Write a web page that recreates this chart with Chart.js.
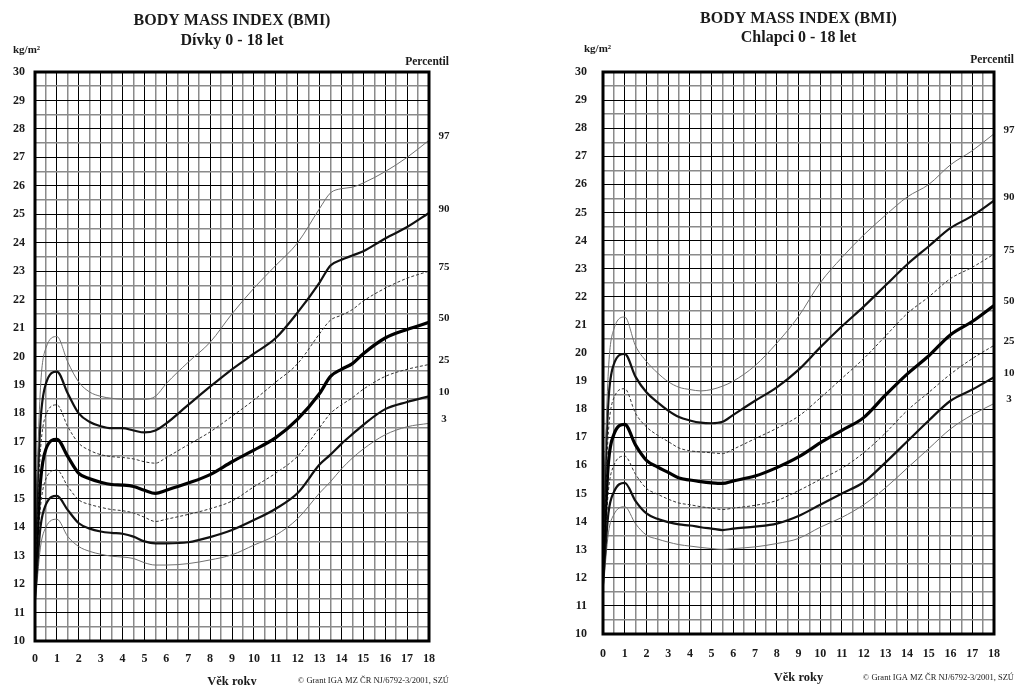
<!DOCTYPE html>
<html>
<head>
<meta charset="utf-8">
<script src="https://cdn.jsdelivr.net/npm/chart.js@4.4.1/dist/chart.umd.min.js"></script>
<style>
html, body { margin: 0; padding: 0; background: #fff; }
#wrap { position: relative; width: 1018px; height: 685px; overflow: hidden; }
canvas { position: absolute; top: 0; }
#girls { left: 0; }
#boys { left: 545px; }
</style>
</head>
<body>
<div id="wrap">
  <canvas id="girls" width="470" height="685"></canvas>
  <canvas id="boys" width="473" height="685"></canvas>
</div>
<script>
// percentile curves, top to bottom
var percentiles = ["97", "90", "75", "50", "25", "10", "3"];

// Dívky (girls) - age in years, BMI kg/m2
var girlAges = [0, 0.25, 0.5, 1, 1.5, 2, 2.5, 3, 3.5, 4, 4.5, 5, 5.5, 6, 7, 8, 9, 10, 11, 12, 13, 13.5, 14, 14.5, 15, 16, 17, 18];
var girlP97 = [13.6, 18.9, 20.3, 20.7, 19.8, 19.1, 18.75, 18.6, 18.53, 18.5, 18.5, 18.5, 18.6, 19.05, 19.8, 20.5, 21.5, 22.4, 23.2, 24.0, 25.2, 25.75, 25.9, 25.95, 26.1, 26.5, 27.0, 27.6];
var girlP90 = [13.1, 17.7, 19.05, 19.47, 18.7, 18.0, 17.7, 17.55, 17.48, 17.48, 17.4, 17.33, 17.4, 17.65, 18.3, 18.94, 19.55, 20.1, 20.65, 21.55, 22.6, 23.2, 23.4, 23.55, 23.7, 24.15, 24.55, 25.05];
var girlP75 = [12.6, 16.7, 17.95, 18.3, 17.53, 16.95, 16.7, 16.55, 16.48, 16.45, 16.4, 16.3, 16.25, 16.45, 16.9, 17.35, 17.9, 18.47, 19.1, 19.75, 20.8, 21.28, 21.45, 21.65, 21.95, 22.4, 22.75, 23.0];
var girlP50 = [12.2, 15.6, 16.75, 17.09, 16.48, 15.89, 15.7, 15.58, 15.5, 15.48, 15.43, 15.3, 15.19, 15.3, 15.55, 15.85, 16.3, 16.71, 17.15, 17.8, 18.7, 19.3, 19.55, 19.75, 20.1, 20.65, 20.95, 21.2];
var girlP25 = [11.8, 14.7, 15.7, 16.01, 15.43, 14.96, 14.8, 14.7, 14.62, 14.58, 14.5, 14.35, 14.2, 14.28, 14.45, 14.65, 14.92, 15.42, 15.9, 16.5, 17.5, 18.0, 18.3, 18.55, 18.85, 19.3, 19.55, 19.72];
var girlP10 = [11.5, 14.0, 14.8, 15.1, 14.6, 14.14, 13.95, 13.85, 13.8, 13.77, 13.67, 13.5, 13.43, 13.43, 13.47, 13.65, 13.9, 14.25, 14.65, 15.2, 16.2, 16.55, 16.93, 17.27, 17.6, 18.15, 18.4, 18.6];
var girlP3  = [11.2, 13.3, 14.0, 14.28, 13.67, 13.32, 13.15, 13.05, 12.98, 12.95, 12.9, 12.75, 12.67, 12.67, 12.72, 12.85, 13.03, 13.37, 13.72, 14.3, 15.2, 15.6, 16.05, 16.43, 16.75, 17.25, 17.53, 17.65];

// Chlapci (boys)
var boyAges = [0, 0.25, 0.5, 1, 1.5, 2, 2.5, 3, 3.5, 4, 4.5, 5, 5.5, 6, 7, 8, 9, 10, 11, 12, 13, 14, 15, 16, 17, 18];
var boyP97 = [14.0, 19.4, 20.85, 21.28, 20.25, 19.7, 19.3, 18.98, 18.78, 18.7, 18.65, 18.7, 18.82, 19.0, 19.55, 20.35, 21.3, 22.5, 23.4, 24.2, 24.9, 25.55, 26.0, 26.7, 27.2, 27.8];
var boyP90 = [13.5, 18.3, 19.6, 19.97, 19.15, 18.6, 18.25, 17.95, 17.72, 17.6, 17.52, 17.5, 17.55, 17.8, 18.3, 18.78, 19.4, 20.2, 20.95, 21.65, 22.4, 23.15, 23.8, 24.45, 24.88, 25.42];
var boyP75 = [13.0, 17.2, 18.4, 18.73, 17.85, 17.37, 17.08, 16.85, 16.62, 16.52, 16.48, 16.45, 16.42, 16.58, 16.95, 17.32, 17.75, 18.4, 19.1, 19.8, 20.6, 21.4, 22.0, 22.65, 23.05, 23.52];
var boyP50 = [12.5, 16.1, 17.1, 17.46, 16.72, 16.18, 15.95, 15.75, 15.55, 15.48, 15.42, 15.38, 15.36, 15.45, 15.62, 15.92, 16.3, 16.8, 17.25, 17.7, 18.5, 19.25, 19.9, 20.65, 21.12, 21.69];
var boyP25 = [12.1, 15.1, 16.0, 16.33, 15.68, 15.18, 14.98, 14.8, 14.66, 14.6, 14.53, 14.48, 14.43, 14.48, 14.58, 14.75, 15.1, 15.5, 15.9, 16.45, 17.15, 17.95, 18.6, 19.25, 19.8, 20.27];
var boyP10 = [11.8, 14.3, 15.05, 15.38, 14.73, 14.29, 14.1, 13.98, 13.9, 13.86, 13.8, 13.75, 13.7, 13.75, 13.82, 13.93, 14.2, 14.6, 15.0, 15.4, 16.1, 16.85, 17.6, 18.3, 18.7, 19.14];
var boyP3  = [11.5, 13.6, 14.25, 14.53, 13.92, 13.52, 13.38, 13.27, 13.18, 13.13, 13.08, 13.04, 13.01, 13.04, 13.1, 13.22, 13.4, 13.8, 14.15, 14.6, 15.2, 15.9, 16.6, 17.3, 17.8, 18.2];

// how each percentile line looks
var lineStyles = {
    "97": { color: "#707070", width: 1,   dash: [] },
    "90": { color: "#111111", width: 2.2, dash: [] },
    "75": { color: "#333333", width: 1,   dash: [3, 2] },
    "50": { color: "#000000", width: 3.2, dash: [] },
    "25": { color: "#333333", width: 1,   dash: [3, 2] },
    "10": { color: "#111111", width: 2.2, dash: [] },
    "3":  { color: "#707070", width: 1,   dash: [] }
};

var SERIF = '"Liberation Serif", "Times New Roman", serif';

/* texts around the plot + frame */
const panelText = {
    id: "panelText",
    afterDatasetsDraw: (chart, args, o) =>
    {
        var ctx = chart.ctx, a = chart.chartArea;
        var cx = (a.left + a.right) / 2;
        ctx.save();

        // thick frame
        ctx.strokeStyle = "#000";
        ctx.lineWidth = 3;
        ctx.strokeRect(a.left, a.top, a.right - a.left, a.bottom - a.top);

        ctx.fillStyle = "#1a1a1a";
        ctx.textBaseline = "middle";

        ctx.textAlign = "center";
        ctx.font = "bold 16px " + SERIF;
        ctx.fillText("BODY MASS INDEX (BMI)", cx, o.titleY);
        ctx.fillText(o.subtitle, cx, o.subY);

        ctx.textAlign = "left";
        ctx.font = "bold 11px " + SERIF;
        ctx.fillText("kg/m²", a.left + o.kgDx, o.kgY);

        ctx.textAlign = "right";
        ctx.font = "bold 11.5px " + SERIF;
        ctx.fillText("Percentil", a.right + 20, o.percY);

        // percentile names at the end of each curve
        ctx.textAlign = "center";
        ctx.font = "bold 11px " + SERIF;
        chart.data.datasets.forEach((ds) => {
            var last = ds.data[ds.data.length - 1];
            var y = chart.scales.y.getPixelForValue(last.y) - 4;
            ctx.fillText(ds.label, a.right + 15, y);
        });

        ctx.textAlign = "right";
        ctx.font = "8.5px " + SERIF;
        ctx.fillText("© Grant IGA MZ ČR NJ/6792-3/2001, SZÚ", a.right + 20, o.copyY);

        ctx.restore();
    }
};

const gridColor = (c) => (c.tick && c.tick.value % 1 === 0) ? "#000" : "#8a8a8a";
const gridWidth = (c) => (c.tick && c.tick.value % 1 === 0) ? 1 : 1.5;
const wholeOnly = (v) => (v % 1 === 0 ? String(v) : "");

const CreatePanel = (id, ages, series, o) =>
{
    var allDatasets = [];
    for (var i = 0; i < percentiles.length; i++)
    {
        var st = lineStyles[percentiles[i]];
        var pts = [];
        for (var k = 0; k < ages.length; k++) {
            pts.push({ x: ages[k], y: series[i][k] });
        }
        allDatasets.push({
            label: percentiles[i],
            data: pts,
            borderColor: st.color,
            borderWidth: st.width,
            borderDash: st.dash,
            pointRadius: 0,
            fill: false,
            cubicInterpolationMode: "monotone"
        });
    }

    return new Chart(document.getElementById(id),
    {
        type: "line",
        data: { datasets: allDatasets },
        plugins: [panelText],
        options: {
            responsive: false,
            animation: false,
            devicePixelRatio: 1,
            layout: { padding: { left: 0, right: o.padRight, top: 72, bottom: 0 } },
            plugins: {
                legend: { display: false },
                tooltip: { enabled: false },
                panelText: o
            },
            scales: {
                x: {
                    type: "linear",
                    min: 0,
                    max: 18,
                    afterFit: (s) => { s.height = o.xHeight; },
                    border: { display: false },
                    grid: { color: gridColor, lineWidth: gridWidth, drawTicks: false },
                    ticks: {
                        stepSize: 0.5,
                        autoSkip: false,
                        maxRotation: 0,
                        padding: o.xPad,
                        color: "#1a1a1a",
                        font: { family: SERIF, size: 12, weight: "bold" },
                        callback: wholeOnly
                    },
                    title: {
                        display: true,
                        text: "Věk roky",
                        color: "#1a1a1a",
                        padding: 0,
                        font: { family: SERIF, size: 12.5, weight: "bold", lineHeight: o.titleLH }
                    }
                },
                y: {
                    type: "linear",
                    min: 10,
                    max: 30,
                    afterFit: (s) => { s.width = o.yWidth; },
                    border: { display: false },
                    grid: { color: gridColor, lineWidth: gridWidth, drawTicks: false },
                    ticks: {
                        stepSize: 0.5,
                        autoSkip: false,
                        padding: o.yPad,
                        color: "#1a1a1a",
                        font: { family: SERIF, size: 12, weight: "bold" },
                        callback: wholeOnly
                    }
                }
            }
        }
    });
}

CreatePanel("girls", girlAges,
    [girlP97, girlP90, girlP75, girlP50, girlP25, girlP10, girlP3],
    { subtitle: "Dívky 0 - 18 let", titleY: 21, subY: 41, kgDx: -22, kgY: 50, percY: 62, copyY: 681,
      padRight: 41, yWidth: 35, yPad: 10, xHeight: 44, xPad: 11, titleLH: 0.46 });

CreatePanel("boys", boyAges,
    [boyP97, boyP90, boyP75, boyP50, boyP25, boyP10, boyP3],
    { subtitle: "Chlapci 0 - 18 let", titleY: 19, subY: 38, kgDx: -19, kgY: 49, percY: 60, copyY: 678,
      padRight: 24, yWidth: 58, yPad: 16, xHeight: 51, xPad: 13, titleLH: 1.23 });
</script>
</body>
</html>
